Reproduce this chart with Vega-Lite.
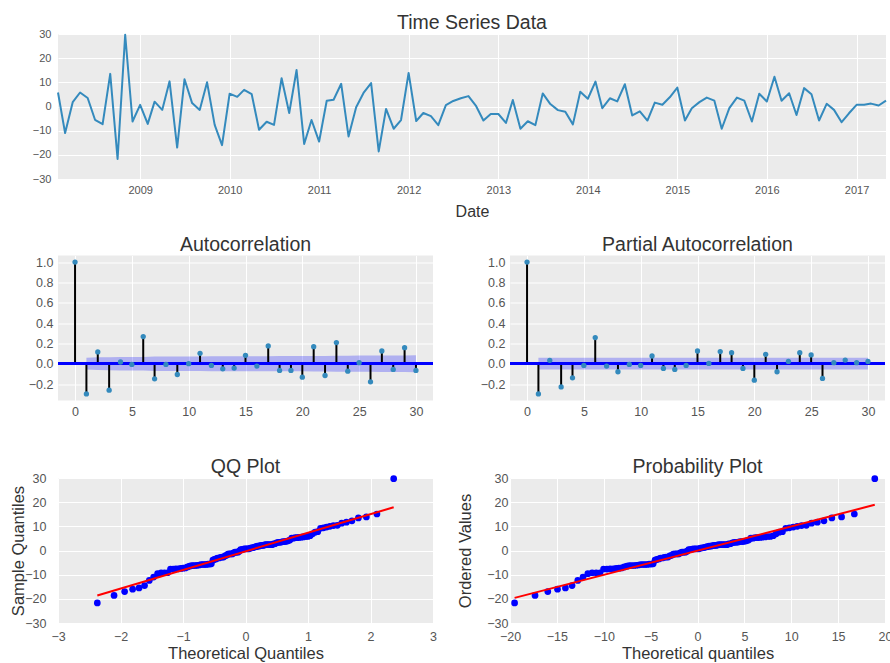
{
"$schema": "https://vega.github.io/schema/vega-lite/v6.json",
"background": "white",
"padding": {"left": 9, "top": 12, "right": 0, "bottom": 0},
"spacing": 15.5,
"config": {
  "view": {"fill": "#EBEBEB", "stroke": null},
  "font": "Liberation Sans",
  "axis": {"gridColor": "white", "gridWidth": 1, "domain": false, "ticks": false, "labelFont": "Liberation Sans", "labelColor": "#555555", "titleFont": "Liberation Sans", "titleColor": "#333333", "titleFontWeight": "normal", "labelFlush": false, "labelOverlap": false},
  "title": {"font": "Liberation Sans", "fontSize": 19.5, "fontWeight": "normal", "color": "#333333", "anchor": "middle", "offset": 5}
},
"datasets": {
  "ts": [
{"date":"2008-02","value":5.8},{"date":"2008-03","value":-11},{"date":"2008-04","value":1.8},{"date":"2008-05","value":5.8},{"date":"2008-06","value":3.5},{"date":"2008-07","value":-5.5},{"date":"2008-08","value":-7.3},{"date":"2008-09","value":13.5},{"date":"2008-10","value":-21.7},{"date":"2008-11","value":29.7},{"date":"2008-12","value":-6.2},
{"date":"2009-01","value":0.7},{"date":"2009-02","value":-7.2},{"date":"2009-03","value":2},{"date":"2009-04","value":-1.4},{"date":"2009-05","value":10.4},{"date":"2009-06","value":-17},{"date":"2009-07","value":11.3},{"date":"2009-08","value":1.4},{"date":"2009-09","value":-1.4},{"date":"2009-10","value":10},{"date":"2009-11","value":-7.6},{"date":"2009-12","value":-16},
{"date":"2010-01","value":5.3},{"date":"2010-02","value":4},{"date":"2010-03","value":6.9},{"date":"2010-04","value":5.1},{"date":"2010-05","value":-9.6},{"date":"2010-06","value":-6.3},{"date":"2010-07","value":-7.6},{"date":"2010-08","value":11.7},{"date":"2010-09","value":-2.7},{"date":"2010-10","value":15.1},{"date":"2010-11","value":-15.5},{"date":"2010-12","value":-5.6},
{"date":"2011-01","value":-14.5},{"date":"2011-02","value":2.4},{"date":"2011-03","value":2.8},{"date":"2011-04","value":9.4},{"date":"2011-05","value":-12.4},{"date":"2011-06","value":-0.3},{"date":"2011-07","value":5.6},{"date":"2011-08","value":9.7},{"date":"2011-09","value":-18.6},{"date":"2011-10","value":-1},{"date":"2011-11","value":-9.2},{"date":"2011-12","value":-5.6},
{"date":"2012-01","value":13.9},{"date":"2012-02","value":-6},{"date":"2012-03","value":-2.7},{"date":"2012-04","value":-4},{"date":"2012-05","value":-7.7},{"date":"2012-06","value":0.6},{"date":"2012-07","value":2.3},{"date":"2012-08","value":3.4},{"date":"2012-09","value":4.3},{"date":"2012-10","value":0.4},{"date":"2012-11","value":-5.8},{"date":"2012-12","value":-3.1},
{"date":"2013-01","value":-3.1},{"date":"2013-02","value":-6.8},{"date":"2013-03","value":2.7},{"date":"2013-04","value":-9.2},{"date":"2013-05","value":-6.1},{"date":"2013-06","value":-7.7},{"date":"2013-07","value":5.4},{"date":"2013-08","value":1},{"date":"2013-09","value":-1.5},{"date":"2013-10","value":-2.2},{"date":"2013-11","value":-7.4},{"date":"2013-12","value":6.1},
{"date":"2014-01","value":3.2},{"date":"2014-02","value":10.3},{"date":"2014-03","value":-0.7},{"date":"2014-04","value":3.4},{"date":"2014-05","value":2.1},{"date":"2014-06","value":9.2},{"date":"2014-07","value":-3.7},{"date":"2014-08","value":-2},{"date":"2014-09","value":-5.8},{"date":"2014-10","value":1.6},{"date":"2014-11","value":0.7},{"date":"2014-12","value":3.8},
{"date":"2015-01","value":7.8},{"date":"2015-02","value":-5.8},{"date":"2015-03","value":-0.7},{"date":"2015-04","value":1.8},{"date":"2015-05","value":3.7},{"date":"2015-06","value":2.4},{"date":"2015-07","value":-9.2},{"date":"2015-08","value":-0.7},{"date":"2015-09","value":3.7},{"date":"2015-10","value":2.4},{"date":"2015-11","value":-6.2},{"date":"2015-12","value":5.3},
{"date":"2016-01","value":2.1},{"date":"2016-02","value":12.3},{"date":"2016-03","value":2.4},{"date":"2016-04","value":5.5},{"date":"2016-05","value":-3.5},{"date":"2016-06","value":7.6},{"date":"2016-07","value":5.1},{"date":"2016-08","value":-5.8},{"date":"2016-09","value":1.1},{"date":"2016-10","value":-1.4},{"date":"2016-11","value":-6.5},{"date":"2016-12","value":-2.8},
{"date":"2017-01","value":0.7},{"date":"2017-02","value":0.7},{"date":"2017-03","value":1.2},{"date":"2017-04","value":0.4},{"date":"2017-05","value":2.4}
  ],
  "acf": [
{"lag":0,"r":1.0},{"lag":1,"r":-0.297},{"lag":2,"r":0.116},{"lag":3,"r":-0.26},{"lag":4,"r":0.017},{"lag":5,"r":-0.007},{"lag":6,"r":0.267},{"lag":7,"r":-0.149},{"lag":8,"r":-0.007},{"lag":9,"r":-0.106},{"lag":10,"r":0.0},{"lag":11,"r":0.102},{"lag":12,"r":-0.017},{"lag":13,"r":-0.05},{"lag":14,"r":-0.043},{"lag":15,"r":0.083},{"lag":16,"r":-0.023},{"lag":17,"r":0.175},{"lag":18,"r":-0.066},{"lag":19,"r":-0.066},{"lag":20,"r":-0.132},{"lag":21,"r":0.168},{"lag":22,"r":-0.116},{"lag":23,"r":0.208},{"lag":24,"r":-0.073},{"lag":25,"r":0.01},{"lag":26,"r":-0.178},{"lag":27,"r":0.125},{"lag":28,"r":-0.056},{"lag":29,"r":0.158},{"lag":30,"r":-0.066}
  ],
  "acfband": [
{"lag":1,"lo":-0.058,"hi":0.058},{"lag":2,"lo":-0.063,"hi":0.063},{"lag":3,"lo":-0.064,"hi":0.064},{"lag":4,"lo":-0.067,"hi":0.067},{"lag":5,"lo":-0.067,"hi":0.067},{"lag":6,"lo":-0.067,"hi":0.067},{"lag":7,"lo":-0.071,"hi":0.071},{"lag":8,"lo":-0.072,"hi":0.072},{"lag":9,"lo":-0.072,"hi":0.072},{"lag":10,"lo":-0.072,"hi":0.072},{"lag":11,"lo":-0.072,"hi":0.072},{"lag":12,"lo":-0.073,"hi":0.073},{"lag":13,"lo":-0.073,"hi":0.073},{"lag":14,"lo":-0.073,"hi":0.073},{"lag":15,"lo":-0.073,"hi":0.073},{"lag":16,"lo":-0.073,"hi":0.073},{"lag":17,"lo":-0.073,"hi":0.073},{"lag":18,"lo":-0.075,"hi":0.075},{"lag":19,"lo":-0.075,"hi":0.075},{"lag":20,"lo":-0.075,"hi":0.075},{"lag":21,"lo":-0.076,"hi":0.076},{"lag":22,"lo":-0.077,"hi":0.077},{"lag":23,"lo":-0.078,"hi":0.078},{"lag":24,"lo":-0.079,"hi":0.079},{"lag":25,"lo":-0.08,"hi":0.08},{"lag":26,"lo":-0.08,"hi":0.08},{"lag":27,"lo":-0.081,"hi":0.081},{"lag":28,"lo":-0.082,"hi":0.082},{"lag":29,"lo":-0.082,"hi":0.082},{"lag":30,"lo":-0.083,"hi":0.083}
  ],
  "pacf": [
{"lag":0,"r":1.0},{"lag":1,"r":-0.297},{"lag":2,"r":0.033},{"lag":3,"r":-0.228},{"lag":4,"r":-0.139},{"lag":5,"r":-0.017},{"lag":6,"r":0.257},{"lag":7,"r":-0.023},{"lag":8,"r":-0.079},{"lag":9,"r":-0.007},{"lag":10,"r":-0.017},{"lag":11,"r":0.076},{"lag":12,"r":-0.046},{"lag":13,"r":-0.056},{"lag":14,"r":-0.017},{"lag":15,"r":0.125},{"lag":16,"r":0.003},{"lag":17,"r":0.119},{"lag":18,"r":0.109},{"lag":19,"r":-0.046},{"lag":20,"r":-0.162},{"lag":21,"r":0.092},{"lag":22,"r":-0.079},{"lag":23,"r":0.023},{"lag":24,"r":0.109},{"lag":25,"r":0.086},{"lag":26,"r":-0.145},{"lag":27,"r":0.01},{"lag":28,"r":0.036},{"lag":29,"r":0.01},{"lag":30,"r":0.023}
  ],
  "pacfband": [
{"lag":1,"lo":-0.058,"hi":0.058},{"lag":30,"lo":-0.058,"hi":0.058}
  ],
  "qq": [
{"q":-2.371,"pq":-19.51,"v":-21.7},{"q":-2.103,"pq":-17.33,"v":-18.6},{"q":-1.934,"pq":-15.97,"v":-17},{"q":-1.806,"pq":-14.93,"v":-16},{"q":-1.703,"pq":-14.09,"v":-15.5},{"q":-1.615,"pq":-13.38,"v":-14.5},{"q":-1.539,"pq":-12.77,"v":-12.4},{"q":-1.47,"pq":-12.21,"v":-11},{"q":-1.407,"pq":-11.7,"v":-9.6},{"q":-1.35,"pq":-11.24,"v":-9.2},
{"q":-1.297,"pq":-10.81,"v":-9.2},{"q":-1.247,"pq":-10.4,"v":-9.2},{"q":-1.2,"pq":-10.02,"v":-7.7},{"q":-1.156,"pq":-9.66,"v":-7.7},{"q":-1.114,"pq":-9.32,"v":-7.6},{"q":-1.073,"pq":-8.99,"v":-7.6},{"q":-1.034,"pq":-8.68,"v":-7.4},{"q":-0.998,"pq":-8.38,"v":-7.3},{"q":-0.962,"pq":-8.09,"v":-7.2},{"q":-0.927,"pq":-7.81,"v":-6.8},
{"q":-0.893,"pq":-7.53,"v":-6.5},{"q":-0.861,"pq":-7.27,"v":-6.3},{"q":-0.829,"pq":-7.01,"v":-6.2},{"q":-0.798,"pq":-6.76,"v":-6.2},{"q":-0.768,"pq":-6.52,"v":-6.1},{"q":-0.739,"pq":-6.29,"v":-6},{"q":-0.71,"pq":-6.05,"v":-5.8},{"q":-0.681,"pq":-5.82,"v":-5.8},{"q":-0.654,"pq":-5.6,"v":-5.8},{"q":-0.627,"pq":-5.38,"v":-5.8},
{"q":-0.6,"pq":-5.16,"v":-5.6},{"q":-0.573,"pq":-4.94,"v":-5.6},{"q":-0.547,"pq":-4.73,"v":-5.5},{"q":-0.522,"pq":-4.53,"v":-4},{"q":-0.497,"pq":-4.33,"v":-3.7},{"q":-0.472,"pq":-4.12,"v":-3.5},{"q":-0.448,"pq":-3.93,"v":-3.1},{"q":-0.423,"pq":-3.73,"v":-3.1},{"q":-0.399,"pq":-3.53,"v":-2.8},{"q":-0.375,"pq":-3.34,"v":-2.7},
{"q":-0.351,"pq":-3.14,"v":-2.7},{"q":-0.327,"pq":-2.95,"v":-2.2},{"q":-0.304,"pq":-2.76,"v":-2},{"q":-0.281,"pq":-2.58,"v":-1.5},{"q":-0.258,"pq":-2.39,"v":-1.4},{"q":-0.235,"pq":-2.2,"v":-1.4},{"q":-0.212,"pq":-2.02,"v":-1.4},{"q":-0.19,"pq":-1.84,"v":-1},{"q":-0.167,"pq":-1.65,"v":-0.7},{"q":-0.145,"pq":-1.47,"v":-0.7},
{"q":-0.122,"pq":-1.29,"v":-0.7},{"q":-0.1,"pq":-1.11,"v":-0.3},{"q":-0.078,"pq":-0.93,"v":0.4},{"q":-0.055,"pq":-0.75,"v":0.4},{"q":-0.033,"pq":-0.57,"v":0.6},{"q":-0.011,"pq":-0.39,"v":0.7},{"q":0.011,"pq":-0.21,"v":0.7},{"q":0.033,"pq":-0.03,"v":0.7},{"q":0.055,"pq":0.15,"v":0.7},{"q":0.078,"pq":0.33,"v":1},
{"q":0.1,"pq":0.51,"v":1.1},{"q":0.122,"pq":0.69,"v":1.2},{"q":0.145,"pq":0.87,"v":1.4},{"q":0.167,"pq":1.05,"v":1.6},{"q":0.19,"pq":1.24,"v":1.8},{"q":0.212,"pq":1.42,"v":1.8},{"q":0.235,"pq":1.6,"v":2},{"q":0.258,"pq":1.79,"v":2.1},{"q":0.281,"pq":1.98,"v":2.1},{"q":0.304,"pq":2.16,"v":2.3},
{"q":0.327,"pq":2.35,"v":2.4},{"q":0.351,"pq":2.54,"v":2.4},{"q":0.375,"pq":2.74,"v":2.4},{"q":0.399,"pq":2.93,"v":2.4},{"q":0.423,"pq":3.13,"v":2.4},{"q":0.448,"pq":3.33,"v":2.7},{"q":0.472,"pq":3.52,"v":2.8},{"q":0.497,"pq":3.73,"v":3.2},{"q":0.522,"pq":3.93,"v":3.4},{"q":0.547,"pq":4.13,"v":3.4},
{"q":0.573,"pq":4.34,"v":3.5},{"q":0.6,"pq":4.56,"v":3.7},{"q":0.627,"pq":4.78,"v":3.7},{"q":0.654,"pq":5.0,"v":3.8},{"q":0.681,"pq":5.22,"v":4},{"q":0.71,"pq":5.45,"v":4.3},{"q":0.739,"pq":5.69,"v":5.1},{"q":0.768,"pq":5.92,"v":5.1},{"q":0.798,"pq":6.16,"v":5.3},{"q":0.829,"pq":6.41,"v":5.3},
{"q":0.861,"pq":6.67,"v":5.4},{"q":0.893,"pq":6.93,"v":5.5},{"q":0.927,"pq":7.21,"v":5.6},{"q":0.962,"pq":7.49,"v":5.8},{"q":0.998,"pq":7.78,"v":5.8},{"q":1.034,"pq":8.08,"v":6.1},{"q":1.073,"pq":8.39,"v":6.9},{"q":1.114,"pq":8.72,"v":7.6},{"q":1.156,"pq":9.06,"v":7.8},{"q":1.2,"pq":9.42,"v":9.2},
{"q":1.247,"pq":9.8,"v":9.4},{"q":1.297,"pq":10.21,"v":9.7},{"q":1.35,"pq":10.64,"v":10},{"q":1.407,"pq":11.1,"v":10.3},{"q":1.47,"pq":11.61,"v":10.4},{"q":1.539,"pq":12.17,"v":11.3},{"q":1.615,"pq":12.78,"v":11.7},{"q":1.703,"pq":13.49,"v":12.3},{"q":1.806,"pq":14.33,"v":13.5},{"q":1.934,"pq":15.37,"v":13.9},
{"q":2.103,"pq":16.73,"v":15.1},{"q":2.371,"pq":18.91,"v":29.7}
  ],
  "qqline": [{"q":-2.371,"v":-18.6},{"q":2.371,"v":17.9}],
  "ppline": [{"pq":-19.51,"v":-19.6},{"pq":18.91,"v":18.9}]
},
"vconcat": [
  {
    "width": 828, "height": 145,
    "title": {"text": "Time Series Data", "offset": -5},
    "data": {"name": "ts"},
    "mark": {"type": "line", "color": "#348ABD", "strokeWidth": 2, "strokeJoin": "round"},
    "encoding": {
      "x": {"field": "date", "type": "temporal", "scale": {"nice": false},
            "axis": {"title": "Date", "format": "%Y", "tickCount": {"interval": "year", "step": 1}, "labelFontSize": 11, "labelPadding": 5, "titleFontSize": 16, "titlePadding": 8, "labelOverlap": false}},
      "y": {"field": "value", "type": "quantitative", "scale": {"domain": [-30, 30], "nice": false},
            "axis": {"title": null, "values": [-30, -20, -10, 0, 10, 20, 30], "labelFontSize": 11, "labelPadding": 7, "minExtent": 49, "maxExtent": 49, "labelOverlap": false}}
    }
  },
  {
    "hconcat": [
      {
        "width": 375, "height": 145,
        "title": {"text": "Autocorrelation", "offset": -0.3},
        "layer": [
          {"data": {"name": "acfband"}, "mark": {"type": "area", "color": "blue", "opacity": 0.25},
           "encoding": {
             "x": {"field": "lag", "type": "quantitative", "scale": {"domain": [-1.5, 31.5], "nice": false, "zero": false},
                   "axis": {"title": null, "values": [0, 5, 10, 15, 20, 25, 30], "labelFontSize": 12.5, "labelPadding": 5, "minExtent": 41, "labelOverlap": false}},
             "y": {"field": "lo", "type": "quantitative", "scale": {"domain": [-0.362, 1.065], "nice": false, "zero": false},
                   "axis": {"title": null, "values": [-0.2, 0, 0.2, 0.4, 0.6, 0.8, 1.0], "format": ".1f", "labelFontSize": 12.5, "labelPadding": 5, "minExtent": 49, "maxExtent": 49, "labelOverlap": false}},
             "y2": {"field": "hi"}
           }},
          {"data": {"name": "acf"}, "mark": {"type": "rule", "color": "black", "strokeWidth": 2},
           "encoding": {
             "x": {"field": "lag", "type": "quantitative",
                   "axis": {"title": null, "values": [0, 5, 10, 15, 20, 25, 30], "labelFontSize": 12.5, "labelPadding": 5, "minExtent": 41, "labelOverlap": false}},
             "y": {"field": "r", "type": "quantitative",
                   "axis": {"title": null, "values": [-0.2, 0, 0.2, 0.4, 0.6, 0.8, 1.0], "format": ".1f", "labelFontSize": 12.5, "labelPadding": 5, "minExtent": 49, "maxExtent": 49, "labelOverlap": false}},
             "y2": {"datum": 0}}},
          {"data": {"name": "acf"}, "mark": {"type": "rule", "color": "blue", "strokeWidth": 2},
           "encoding": {"y": {"datum": 0, "type": "quantitative",
                   "axis": {"title": null, "values": [-0.2, 0, 0.2, 0.4, 0.6, 0.8, 1.0], "format": ".1f", "labelFontSize": 12.5, "labelPadding": 5, "minExtent": 49, "maxExtent": 49, "labelOverlap": false}}}},
          {"data": {"name": "acf"}, "mark": {"type": "circle", "color": "#348ABD", "size": 28, "opacity": 1},
           "encoding": {
             "x": {"field": "lag", "type": "quantitative",
                   "axis": {"title": null, "values": [0, 5, 10, 15, 20, 25, 30], "labelFontSize": 12.5, "labelPadding": 5, "minExtent": 41, "labelOverlap": false}},
             "y": {"field": "r", "type": "quantitative",
                   "axis": {"title": null, "values": [-0.2, 0, 0.2, 0.4, 0.6, 0.8, 1.0], "format": ".1f", "labelFontSize": 12.5, "labelPadding": 5, "minExtent": 49, "maxExtent": 49, "labelOverlap": false}}}}
        ]
      },
      {
        "width": 375, "height": 145,
        "title": {"text": "Partial Autocorrelation", "offset": -0.3},
        "layer": [
          {"data": {"name": "pacfband"}, "mark": {"type": "area", "color": "blue", "opacity": 0.25},
           "encoding": {
             "x": {"field": "lag", "type": "quantitative", "scale": {"domain": [-1.5, 31.5], "nice": false, "zero": false},
                   "axis": {"title": null, "values": [0, 5, 10, 15, 20, 25, 30], "labelFontSize": 12.5, "labelPadding": 5, "minExtent": 41, "labelOverlap": false}},
             "y": {"field": "lo", "type": "quantitative", "scale": {"domain": [-0.362, 1.065], "nice": false, "zero": false},
                   "axis": {"title": null, "values": [-0.2, 0, 0.2, 0.4, 0.6, 0.8, 1.0], "format": ".1f", "labelFontSize": 12.5, "labelPadding": 5, "minExtent": 49, "maxExtent": 49, "labelOverlap": false}},
             "y2": {"field": "hi"}
           }},
          {"data": {"name": "pacf"}, "mark": {"type": "rule", "color": "black", "strokeWidth": 2},
           "encoding": {
             "x": {"field": "lag", "type": "quantitative",
                   "axis": {"title": null, "values": [0, 5, 10, 15, 20, 25, 30], "labelFontSize": 12.5, "labelPadding": 5, "minExtent": 41, "labelOverlap": false}},
             "y": {"field": "r", "type": "quantitative",
                   "axis": {"title": null, "values": [-0.2, 0, 0.2, 0.4, 0.6, 0.8, 1.0], "format": ".1f", "labelFontSize": 12.5, "labelPadding": 5, "minExtent": 49, "maxExtent": 49, "labelOverlap": false}},
             "y2": {"datum": 0}}},
          {"data": {"name": "pacf"}, "mark": {"type": "rule", "color": "blue", "strokeWidth": 2},
           "encoding": {"y": {"datum": 0, "type": "quantitative",
                   "axis": {"title": null, "values": [-0.2, 0, 0.2, 0.4, 0.6, 0.8, 1.0], "format": ".1f", "labelFontSize": 12.5, "labelPadding": 5, "minExtent": 49, "maxExtent": 49, "labelOverlap": false}}}},
          {"data": {"name": "pacf"}, "mark": {"type": "circle", "color": "#348ABD", "size": 28, "opacity": 1},
           "encoding": {
             "x": {"field": "lag", "type": "quantitative",
                   "axis": {"title": null, "values": [0, 5, 10, 15, 20, 25, 30], "labelFontSize": 12.5, "labelPadding": 5, "minExtent": 41, "labelOverlap": false}},
             "y": {"field": "r", "type": "quantitative",
                   "axis": {"title": null, "values": [-0.2, 0, 0.2, 0.4, 0.6, 0.8, 1.0], "format": ".1f", "labelFontSize": 12.5, "labelPadding": 5, "minExtent": 49, "maxExtent": 49, "labelOverlap": false}}}}
        ]
      }
    ],
    "spacing": 77,
    "bounds": "flush"
  },
  {
    "hconcat": [
      {
        "width": 375, "height": 145,
        "title": {"text": "QQ Plot", "offset": -5.5},
        "layer": [
          {"data": {"name": "qq"}, "mark": {"type": "circle", "color": "blue", "size": 45, "opacity": 1},
           "encoding": {
             "x": {"field": "q", "type": "quantitative", "scale": {"domain": [-3, 3], "nice": false, "zero": false},
                   "axis": {"title": "Theoretical Quantiles", "values": [-3, -2, -1, 0, 1, 2, 3], "format": "d", "labelFontSize": 12.5, "labelPadding": 7, "titleFontSize": 16.5, "titlePadding": 3, "labelOverlap": false}},
             "y": {"field": "v", "type": "quantitative", "scale": {"domain": [-30, 30], "nice": false},
                   "axis": {"title": "Sample Quantiles", "values": [-30, -20, -10, 0, 10, 20, 30], "labelFontSize": 12.5, "labelPadding": 12, "maxExtent": 30, "titleFontSize": 16.5, "titlePadding": 2, "labelOverlap": false}}
           }},
          {"data": {"name": "qqline"}, "mark": {"type": "line", "color": "red", "strokeWidth": 2},
           "encoding": {
             "x": {"field": "q", "type": "quantitative",
                   "axis": {"title": "Theoretical Quantiles", "values": [-3, -2, -1, 0, 1, 2, 3], "format": "d", "labelFontSize": 12.5, "labelPadding": 7, "titleFontSize": 16.5, "titlePadding": 3, "labelOverlap": false}},
             "y": {"field": "v", "type": "quantitative",
                   "axis": {"title": "Sample Quantiles", "values": [-30, -20, -10, 0, 10, 20, 30], "labelFontSize": 12.5, "labelPadding": 12, "maxExtent": 30, "titleFontSize": 16.5, "titlePadding": 2, "labelOverlap": false}}
           }}
        ]
      },
      {
        "width": 375, "height": 145,
        "title": {"text": "Probability Plot", "offset": -5.5},
        "layer": [
          {"data": {"name": "qq"}, "mark": {"type": "circle", "color": "blue", "size": 45, "opacity": 1},
           "encoding": {
             "x": {"field": "pq", "type": "quantitative", "scale": {"domain": [-20, 20], "nice": false, "zero": false},
                   "axis": {"title": "Theoretical quantiles", "values": [-20, -15, -10, -5, 0, 5, 10, 15, 20], "labelFontSize": 12.5, "labelPadding": 7, "titleFontSize": 16.5, "titlePadding": 3, "labelOverlap": false}},
             "y": {"field": "v", "type": "quantitative", "scale": {"domain": [-30, 30], "nice": false},
                   "axis": {"title": "Ordered Values", "values": [-30, -20, -10, 0, 10, 20, 30], "labelFontSize": 12.5, "labelPadding": 2, "minExtent": 24, "maxExtent": 24, "titleFontSize": 16.5, "titlePadding": 13, "labelOverlap": false}}
           }},
          {"data": {"name": "ppline"}, "mark": {"type": "line", "color": "red", "strokeWidth": 2},
           "encoding": {
             "x": {"field": "pq", "type": "quantitative",
                   "axis": {"title": "Theoretical quantiles", "values": [-20, -15, -10, -5, 0, 5, 10, 15, 20], "labelFontSize": 12.5, "labelPadding": 7, "titleFontSize": 16.5, "titlePadding": 3, "labelOverlap": false}},
             "y": {"field": "v", "type": "quantitative",
                   "axis": {"title": "Ordered Values", "values": [-30, -20, -10, 0, 10, 20, 30], "labelFontSize": 12.5, "labelPadding": 2, "minExtent": 24, "maxExtent": 24, "titleFontSize": 16.5, "titlePadding": 13, "labelOverlap": false}}
           }}
        ]
      }
    ],
    "spacing": 77,
    "bounds": "flush"
  }
]
}
